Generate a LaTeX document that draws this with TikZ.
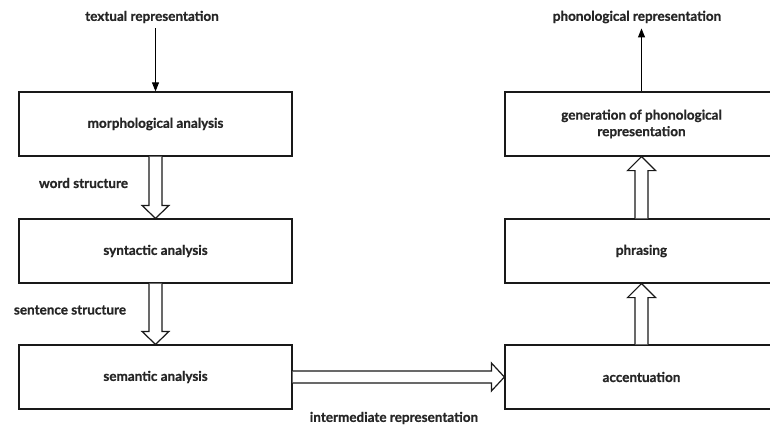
\documentclass[tikz,border=0pt]{standalone}
\usepackage{fontspec}
\setmainfont{Lato}[BoldFeatures={FakeBold=0.8}]
\usetikzlibrary{arrows.meta,calc}
\begin{document}
\begin{tikzpicture}[x=1pt,y=1pt,
  every node/.style={font=\bfseries\fontsize{13.5}{16.5}\selectfont, text=black!85},
  stage/.style={draw=black!90, line width=1.2pt, fill=white, minimum width=273pt, minimum height=64pt, inner sep=0pt, align=center},
  lbl/.style={inner sep=2pt},
  thin/.style={line width=0.9pt, -{Triangle[width=7pt,length=9pt]}},
  fat/.style={draw=black!90, line width=1.2pt, fill=white, line join=miter}
]
\useasboundingbox (0,0) rectangle (770,-425);

% processing stages
\node[stage] (morph) at (155.5,-124) {morphological analysis};
\node[stage] (synt)  at (155.5,-251) {syntactic analysis};
\node[stage] (sem)   at (155.5,-377) {semantic analysis};
\node[stage] (gen)   at (641.5,-124) {generation of phonological\\representation};
\node[stage] (phr)   at (641.5,-251) {phrasing};
\node[stage] (acc)   at (641.5,-377) {accentuation};

% input / output and intermediate labels
\node[lbl] (txt)  at (152,-17)   {textual representation};
\node[lbl] (phon) at (637,-17)   {phonological representation};
\node[lbl] (word) at (83.5,-183) {word structure};
\node[lbl] (sent) at (70,-310)   {sentence structure};
\node[lbl] (inter) at (394,-418) {intermediate representation};

% thin arrows
\draw[thin] (morph.north |- txt.south) ++(0,-3) -- (morph.north);
\draw[thin] (gen.north) -- ($(gen.north |- phon.south)+(0,-3)$);

% hollow block arrows, downward on the analysis side
\draw[fat] ($(morph.south)+(-6.5,0)$) -- ($(synt.north)+(-6.5,13)$) -- ($(synt.north)+(-13.5,13)$)
  -- (synt.north) -- ($(synt.north)+(13.5,13)$) -- ($(synt.north)+(6.5,13)$) -- ($(morph.south)+(6.5,0)$);
\draw[fat] ($(synt.south)+(-6.5,0)$) -- ($(sem.north)+(-6.5,13)$) -- ($(sem.north)+(-13.5,13)$)
  -- (sem.north) -- ($(sem.north)+(13.5,13)$) -- ($(sem.north)+(6.5,13)$) -- ($(synt.south)+(6.5,0)$);

% hollow block arrows, upward on the generation side
\draw[fat] ($(acc.north)+(-6.5,0)$) -- ($(phr.south)+(-6.5,-14)$) -- ($(phr.south)+(-14,-14)$)
  -- (phr.south) -- ($(phr.south)+(14,-14)$) -- ($(phr.south)+(6.5,-14)$) -- ($(acc.north)+(6.5,0)$);
\draw[fat] ($(phr.north)+(-6.5,0)$) -- ($(gen.south)+(-6.5,-14)$) -- ($(gen.south)+(-14,-14)$)
  -- (gen.south) -- ($(gen.south)+(14,-14)$) -- ($(gen.south)+(6.5,-14)$) -- ($(phr.north)+(6.5,0)$);

% hollow block arrow between the two columns
\draw[fat] ($(sem.east)+(0,6)$) -- ($(acc.west)+(-13,6)$) -- ($(acc.west)+(-13,14)$)
  -- (acc.west) -- ($(acc.west)+(-13,-14)$) -- ($(acc.west)+(-13,-6)$) -- ($(sem.east)+(0,-6)$);
\end{tikzpicture}
\end{document}
